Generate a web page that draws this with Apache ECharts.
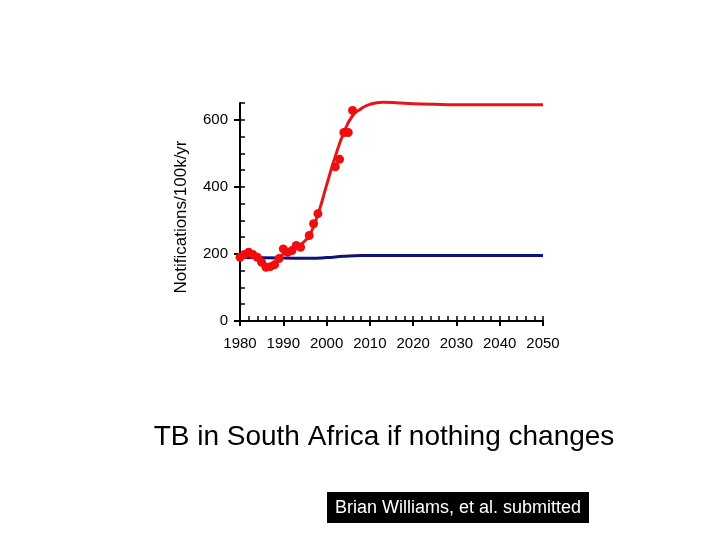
<!DOCTYPE html>
<html>
<head>
<meta charset="utf-8">
<script src="https://cdn.jsdelivr.net/npm/echarts@6/dist/echarts.min.js"></script>
<style>
  html, body { margin: 0; padding: 0; background: #fff; }
  #chart { width: 720px; height: 540px; }
</style>
</head>
<body>
<div id="chart"></div>
<script>
// observed notifications (dots)
var obsYears = [1980, 1981, 1982, 1983, 1984, 1985, 1986, 1987, 1988, 1989, 1990, 1991, 1992, 1993, 1994, 1996, 1997, 1998, 2002, 2003, 2004, 2005, 2006];
var obsValues = [190, 198, 205, 198, 190, 175, 160, 162, 168, 186, 215, 205, 210, 225, 220, 255, 290, 320, 460, 482, 562, 562, 628];

// fitted model, red curve
var fitYears = [1980, 1982, 1984, 1986, 1988, 1990, 1992, 1994, 1996, 1998, 2000, 2002, 2004, 2006, 2008, 2010, 2013, 2016, 2020, 2025, 2030, 2040, 2050];
var fitValues = [190, 207, 192, 163, 175, 200, 212, 228, 255, 318, 405, 490, 562, 612, 633, 646, 652, 651, 648, 646, 645, 645, 645];

// blue curve
var baseYears = [1980, 1990, 1996, 2000, 2004, 2008, 2012, 2050];
var baseValues = [189, 188, 187, 189, 193, 195, 195, 195];

var xMajor = [1980, 1990, 2000, 2010, 2020, 2030, 2040, 2050];
var yMajor = [0, 200, 400, 600];

function pairs(xs, ys) {
  var out = [];
  for (var i = 0; i < xs.length; i++) out.push([xs[i], ys[i]]);
  return out;
}

var font = 'Arial, "Liberation Sans", Helvetica, sans-serif';
var chart = echarts.init(document.getElementById('chart'));

chart.setOption({
  animation: false,
  grid: { left: 240, right: 177, top: 103, bottom: 219 },
  xAxis: [{
    type: 'value', min: 1980, max: 2050,
    axisLine: { lineStyle: { color: '#000', width: 2 } },
    axisTick: { inside: false, length: 5, lineStyle: { color: '#000', width: 2 }, customValues: xMajor },
    axisLabel: {
      customValues: xMajor, color: '#000', fontSize: 15, fontFamily: font, margin: 15,
      formatter: function (v) { return String(v); }
    },
    splitLine: { show: false }
  }, {
    type: 'value', min: 1980, max: 2050, interval: 2, position: 'bottom',
    axisLine: { show: false },
    axisTick: { inside: true, length: 5, lineStyle: { color: '#000', width: 1.5 } },
    axisLabel: { show: false },
    splitLine: { show: false }
  }],
  yAxis: [{
    type: 'value', min: 0, max: 650,
    axisLine: { lineStyle: { color: '#000', width: 2 } },
    axisTick: { inside: false, length: 6, lineStyle: { color: '#000', width: 2 }, customValues: yMajor },
    axisLabel: { customValues: yMajor, color: '#000', fontSize: 15, fontFamily: font, margin: 12 },
    splitLine: { show: false }
  }, {
    type: 'value', min: 0, max: 650, interval: 50, position: 'left',
    axisLine: { show: false },
    axisTick: { inside: true, length: 5, lineStyle: { color: '#000', width: 1.5 } },
    axisLabel: { show: false },
    splitLine: { show: false }
  }],
  series: [{
    type: 'line', data: pairs(baseYears, baseValues), smooth: true, clip: false,
    symbol: 'none', lineStyle: { color: '#10107a', width: 3 }, z: 2
  }, {
    type: 'line', data: pairs(fitYears, fitValues), smooth: true, clip: false,
    symbol: 'none', lineStyle: { color: '#e81518', width: 3 }, z: 3
  }, {
    type: 'scatter', data: pairs(obsYears, obsValues), clip: false,
    symbolSize: 9, itemStyle: { color: '#f00d0d', opacity: 1 }, z: 4
  }],
  graphic: [{
    type: 'text', x: 181, y: 217, rotation: Math.PI / 2,
    style: { text: 'Notifications/100k/yr', font: '17px ' + font, fill: '#000', align: 'center', verticalAlign: 'middle' }
  }, {
    type: 'text', x: 384, y: 437,
    style: { text: 'TB in South Africa if nothing changes', font: '28px ' + font, fill: '#000', align: 'center', verticalAlign: 'middle' }
  }, {
    type: 'rect', shape: { x: 327, y: 492, width: 262, height: 31 },
    style: { fill: '#000' }
  }, {
    type: 'text', x: 458, y: 508,
    style: { text: 'Brian Williams, et al. submitted', font: '18px ' + font, fill: '#fff', align: 'center', verticalAlign: 'middle' }
  }]
});
</script>
</body>
</html>
